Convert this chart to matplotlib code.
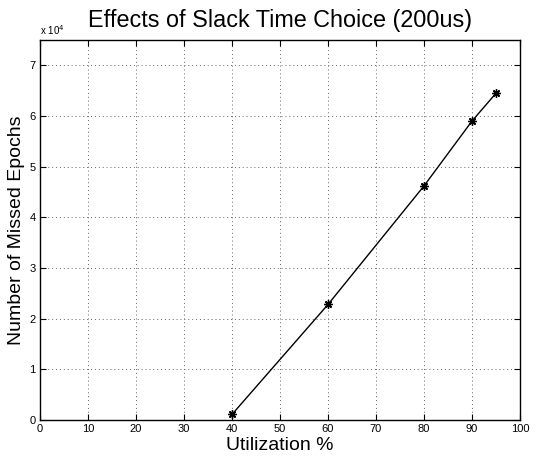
import matplotlib
matplotlib.use("Agg")
import matplotlib.pyplot as plt
from matplotlib.ticker import FuncFormatter

# values
utilization = [40, 60, 80, 90, 95]
missed_epochs = [1100, 22800, 46200, 59000, 64500]

x_ticks = list(range(0, 101, 10))
y_ticks = [i * 1e4 for i in range(0, 8)]

plt.rcParams['font.family'] = ['Liberation Sans', 'DejaVu Sans']

fig = plt.figure(figsize=(5.39, 4.62), dpi=100)
ax = fig.add_axes([40 / 539, 42 / 462, 480 / 539, 380 / 462])

ax.plot(utilization, missed_epochs, color='black', linewidth=1.0,
        marker=(8, 2, 0), markersize=6, markeredgewidth=1.0)

ax.set_xlim(0, 100)
ax.set_ylim(0, 7.5e4)
ax.set_xticks(x_ticks)
ax.set_yticks(y_ticks)
ax.yaxis.set_major_formatter(FuncFormatter(lambda v, p: '%d' % round(v / 1e4)))

ax.grid(True, linestyle=(0, (1, 3)), color='#666666', linewidth=0.7)
ax.tick_params(direction='in', top=True, right=True, length=4,
               labelsize=8, width=0.8, pad=3)
for s in ax.spines.values():
    s.set_linewidth(1.0)

ax.text(0.0, 1.008, r'x 10$^4$', transform=ax.transAxes, fontsize=7,
        ha='left', va='bottom')

ax.set_title('Effects of Slack Time Choice (200us)', fontsize=16.8, pad=9)
ax.set_xlabel('Utilization %', fontsize=14, labelpad=2)
ax.set_ylabel('Number of Missed Epochs', fontsize=14, labelpad=3)

fig.savefig('out.png', dpi=100)
